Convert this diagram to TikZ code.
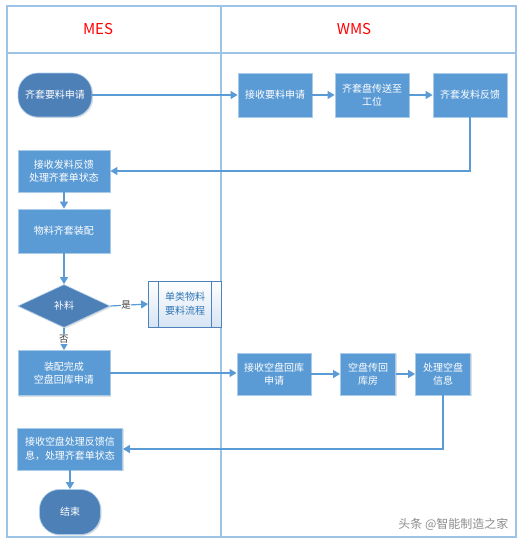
\documentclass[tikz,border=0pt]{standalone}
\usepackage{fontspec}
\setmainfont{Noto Sans CJK SC}
\usetikzlibrary{arrows.meta,shapes.geometric,shadows,calc}
\definecolor{lane}{HTML}{9DC3E6}
\definecolor{boxfill}{HTML}{5B9BD5}
\definecolor{boxline}{HTML}{A9CBEA}
\definecolor{dark}{HTML}{4E80B8}
\definecolor{conn}{HTML}{5B9BD5}
\definecolor{ptext}{HTML}{2E75B6}
\definecolor{pline}{HTML}{4F81BD}
\definecolor{pshade}{HTML}{D6E4F3}
\definecolor{ttl}{HTML}{FF0000}
\tikzset{
  shd/.style={drop shadow={shadow xshift=1.2pt,shadow yshift=-1.2pt,opacity=0.25,fill=gray}},
  box/.style={rectangle,fill=boxfill,draw=boxline,line width=0.8pt,text=white,align=center,
    font=\fontsize{10pt}{13.5pt}\selectfont,inner sep=1pt,shd},
  term/.style={rectangle,rounded corners=20pt,fill=dark,draw=boxline,line width=0.6pt,text=white,align=center,
    font=\fontsize{10pt}{13.5pt}\selectfont,shd},
  dia/.style={diamond,fill=dark,draw=boxline,line width=0.6pt,text=white,
    font=\fontsize{10pt}{13.5pt}\selectfont,inner sep=0pt,aspect=2.1,shd},
  pproc/.style={rectangle,top color=white,bottom color=pshade,draw=pline,line width=0.9pt,
    text=ptext,align=center,font=\fontsize{10pt}{14pt}\selectfont},
  conx/.style={draw=conn,line width=1.2pt,-{Triangle[length=7pt,width=8pt]}},
  lbl/.style={fill=white,inner sep=0.5pt,text=black!75,font=\fontsize{9.5pt}{11pt}\selectfont},
  lanes/.style={draw=lane,line width=1.2pt},
  title/.style={text=ttl,font=\fontsize{15pt}{18pt}\selectfont}
}
\begin{document}
\begin{tikzpicture}[x=1pt,y=-1pt]
\useasboundingbox (0,0) rectangle (530,547);
% swimlane frame
\draw[lanes] (7,6) rectangle (516,537);
\draw[lanes] (7,53) -- (516,53);
\draw[lanes] (221,6) -- (221,537);
\node[title] (tmes) at (98,29) {MES};
\node[title] (twms) at (354,29) {WMS};
% nodes
\node[term,minimum width=74pt,minimum height=44pt] (start) at (55,95) {齐套要料申请};
\node[box,minimum width=74pt,minimum height=44pt] (r1) at (275,95) {接收要料申请};
\node[box,minimum width=74pt,minimum height=44pt] (r2) at (372,95) {齐套盘传送至\\工位};
\node[box,minimum width=74pt,minimum height=44pt] (r3) at (470,95) {齐套发料反馈};
\node[box,minimum width=92pt,minimum height=42pt] (m1) at (64,171) {接收发料反馈\\处理齐套单状态};
\node[box,minimum width=92pt,minimum height=44pt] (m2) at (64,231) {物料齐套装配};
\node[dia,minimum width=92pt,minimum height=43pt] (d) at (64,306) {补料};
\node[pproc,minimum width=73pt,minimum height=46pt] (p) at (185,304) {单类物料\\要料流程};
\draw[pline,line width=0.9pt] ([xshift=10.5pt]p.north west) -- ([xshift=10.5pt]p.south west);
\draw[pline,line width=0.9pt] ([xshift=-11pt]p.north east) -- ([xshift=-11pt]p.south east);
\node[box,minimum width=92pt,minimum height=45pt] (m3) at (64,373) {装配完成\\空盘回库申请};
\node[box,minimum width=74pt,minimum height=42pt] (w1) at (274,374) {接收空盘回库\\申请};
\node[box,minimum width=55pt,minimum height=42pt] (w2) at (368,374) {空盘传回\\库房};
\node[box,minimum width=55pt,minimum height=42pt] (w3) at (443,374) {处理空盘\\信息};
\node[box,minimum width=105pt,minimum height=42pt] (m4) at (70,449) {接收空盘处理反馈信\\息，处理齐套单状态};
\node[term,minimum width=61pt,minimum height=45pt] (end) at (70,512) {结束};
% connectors
\draw[conx] (start.east) -- (r1.west);
\draw[conx] (r1.east) -- (r2.west);
\draw[conx] (r2.east) -- (r3.west);
\draw[conx] (r3.south) |- (m1.east);
\draw[conx] (m1.south) -- (m2.north);
\draw[conx] (m2.south) -- (d.north);
\draw[conx] (d.east) -- node[lbl,pos=0.42] (ys) {是} (p.west);
\draw[conx] (d.south) -- node[lbl,pos=0.5] (no) {否} (m3.north);
\draw[conx] (m3.east) -- (w1.west |- m3.east);
\draw[conx] (w1.east) -- (w2.west);
\draw[conx] (w2.east) -- (w3.west);
\draw[conx] (w3.south) |- (m4.east);
\draw[conx] (m4.south) -- (end.north);
% watermark
\node[text=black!45,font=\fontsize{12pt}{14pt}\selectfont,anchor=east] (wm) at (512,524) {头条 @智能制造之家};
\end{tikzpicture}
\end{document}
